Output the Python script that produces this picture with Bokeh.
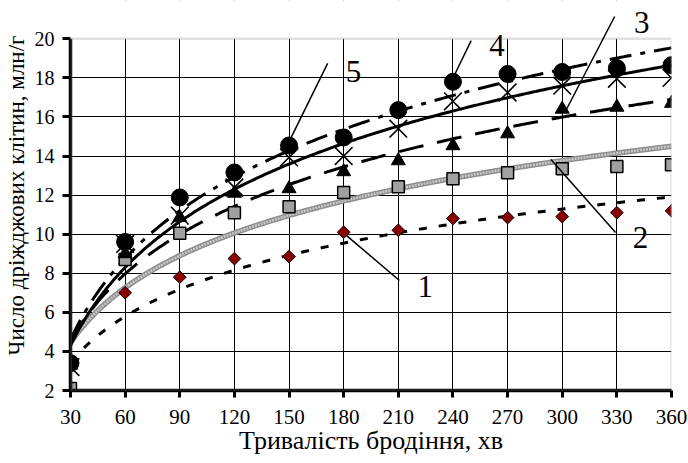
import numpy as np
from bokeh.plotting import figure
from bokeh.models import Range1d, FixedTicker, Label, Arrow, BoxAnnotation
from bokeh.embed import file_html
from bokeh.resources import INLINE

# ---- data ----
time_min = [30, 60, 90, 120, 150, 180, 210, 240, 270, 300, 330, 360]
series1 = [1.8, 7.0, 7.8, 8.75, 8.85, 10.1, 10.2, 10.8, 10.85, 10.9, 11.1, 11.2]
series2 = [2.1, 8.7, 10.05, 11.1, 11.4, 12.13, 12.43, 12.84, 13.15, 13.35, 13.47, 13.56]
series3 = [3.3, 9.0, 10.85, 12.1, 12.33, 13.2, 13.76, 14.53, 15.14, 16.4, 16.5, 16.7]
series4 = [3.2, 9.5, 10.95, 12.39, 13.93, 14.0, 15.4, 16.8, 17.25, 17.6, 17.95, 18.0]
series5 = [3.4, 9.6, 11.88, 13.16, 14.54, 14.95, 16.35, 17.8, 18.2, 18.3, 18.5, 18.65]
x_ticks = [30, 60, 90, 120, 150, 180, 210, 240, 270, 300, 330, 360]
y_ticks = [2, 4, 6, 8, 10, 12, 14, 16, 18, 20]
x_min, x_max = 30, 360
y_min, y_max = 2, 20

# callout labels and their leader lines (data units)
label_text = ["1", "2", "3", "4", "5"]
label_x = [224.8, 343.0, 343.6, 264.2, 185.4]
label_y = [7.32, 9.83, 20.83, 19.66, 18.33]
leader_x0 = [181.6, 293.8, 302.0, 240.7, 150.9]
leader_y0 = [9.93, 13.82, 16.33, 18.12, 14.9]
leader_x1 = [210.6, 329.3, 328.8, 250.0, 171.2]
leader_y1 = [7.63, 10.09, 21.14, 19.91, 18.74]

FONT = "Liberation Serif"

# the frame reaches above y=20 so that callout "3" (outside the plot box) is not clipped
p = figure(width=688, height=463, output_backend="svg", toolbar_location=None,
           x_range=Range1d(x_min, x_max), y_range=Range1d(y_min, 21.96),
           min_border_left=68, min_border_right=17, min_border_top=0, min_border_bottom=73)
p.background_fill_color = "white"
p.border_fill_color = "white"
p.outline_line_color = None

# grid (the outer box edges are drawn grey separately)
p.xgrid.ticker = FixedTicker(ticks=x_ticks[:-1])
p.ygrid.ticker = FixedTicker(ticks=y_ticks[:-1])
for g in (p.xgrid, p.ygrid):
    g.grid_line_color = "black"
    g.grid_line_width = 1

# axes
p.xaxis.ticker = FixedTicker(ticks=x_ticks)
p.yaxis.ticker = FixedTicker(ticks=y_ticks)
p.yaxis.bounds = (y_min, y_max)
for ax in (p.xaxis, p.yaxis):
    ax.axis_line_width = 3.5
    ax.axis_line_color = "black"
    ax.major_tick_line_width = 3
    ax.major_tick_line_color = "black"
    ax.minor_tick_line_color = None
    ax.major_tick_in = 0
    ax.major_label_text_font = FONT
    ax.major_label_text_color = "black"
    ax.axis_label_text_font = FONT
    ax.axis_label_text_font_style = "normal"
    ax.axis_label_text_color = "black"
p.xaxis.major_tick_out = 7
p.yaxis.major_tick_out = 8
p.xaxis.major_label_text_font_size = "21px"
p.yaxis.major_label_text_font_size = "20px"
p.xaxis.major_label_standoff = 12
p.yaxis.major_label_standoff = 8
p.xaxis.axis_label = "Тривалість бродіння, хв"
p.yaxis.axis_label = "Число дріжджових клітин, млн/г"
p.xaxis.axis_label_text_font_size = "26px"
p.yaxis.axis_label_text_font_size = "23px"
p.xaxis.axis_label_standoff = -1
p.yaxis.axis_label_standoff = 3

# logarithmic trend lines (least squares on ln x, as in the source chart)
xs = np.linspace(min(time_min), max(time_min), 300)
def log_trend(ys):
    a, b = np.polyfit(np.log(time_min), ys, 1)
    return a * np.log(xs) + b

p.line(xs, log_trend(series1), line_color="black", line_width=3, line_dash="8 12")
p.line(xs, log_trend(series2), line_color="#8e8e8e", line_width=5.5)
p.line(xs, log_trend(series2), line_color="#c9c9c9", line_width=2.5, line_dash="2 1")
p.line(xs, log_trend(series3), line_color="black", line_width=3, line_dash="25 14")
p.line(xs, log_trend(series4), line_color="black", line_width=3)
p.line(xs, log_trend(series5), line_color="black", line_width=3, line_dash="22 9 5 9")

# markers
p.scatter(time_min, series1, marker="square", size=9, angle=np.pi / 4,
          fill_color="#8b0000", line_color="black", line_width=1)
p.scatter(time_min, series2, marker="square", size=12,
          fill_color="#a0a0a0", line_color="black", line_width=1.5)
p.scatter(time_min, series3, marker="triangle", size=14,
          fill_color="black", line_color="black")
p.scatter(time_min, series4, marker="x", size=25,
          line_color="black", line_width=1.6)
p.scatter(time_min, series5, marker="circle", size=17,
          fill_color="black", line_color="black")

# blank area above the plot box, and the grey plot-box border
p.add_layout(BoxAnnotation(bottom=y_max, fill_color="white", fill_alpha=1.0,
                           line_color=None))
p.add_layout(BoxAnnotation(left=x_min, right=x_max, bottom=y_min, top=y_max,
                           fill_alpha=0, line_color="#9a9a9a", line_width=2.5))

# callouts
for t, lx, ly, x0, y0, x1, y1 in zip(label_text, label_x, label_y,
                                     leader_x0, leader_y0, leader_x1, leader_y1):
    p.add_layout(Arrow(end=None, x_start=x0, y_start=y0, x_end=x1, y_end=y1,
                       line_color="black", line_width=1.5))
    p.add_layout(Label(x=lx, y=ly, text=t, text_font=FONT, text_font_size="31px",
                       text_color="black", text_align="center", text_baseline="middle"))

open("out.html", "w").write(file_html(p, INLINE))
